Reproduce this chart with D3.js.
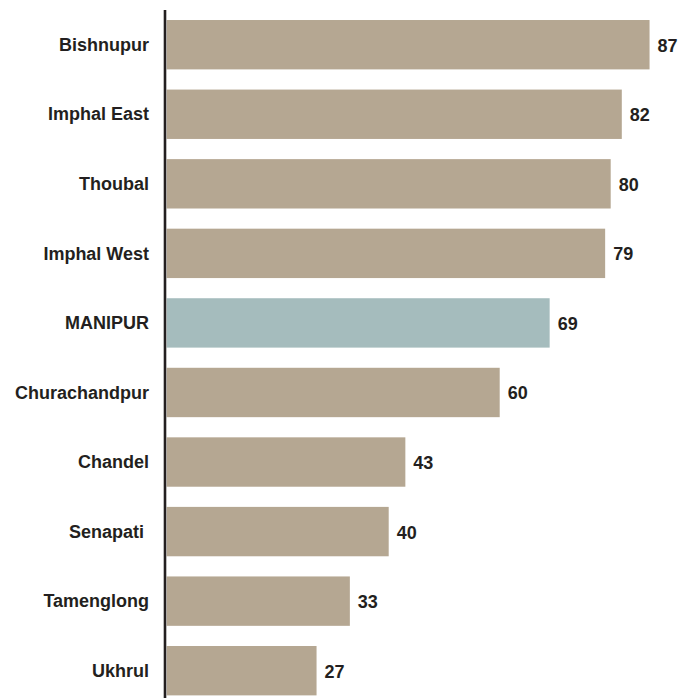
<!DOCTYPE html>
<html>
<head>
<meta charset="utf-8">
<script src="https://cdn.jsdelivr.net/npm/d3@7"></script>
<style>
  html, body { margin: 0; padding: 0; background: #ffffff; }
  svg { display: block; }
  text { font-family: "Liberation Sans", Arial, Helvetica, sans-serif; font-weight: bold; fill: #231f20; }
</style>
</head>
<body>
<svg id="chart" width="679" height="698"></svg>
<script>
// Districts of Manipur, ordered as plotted (top to bottom)
const districts = ["Bishnupur", "Imphal East", "Thoubal", "Imphal West", "MANIPUR",
                   "Churachandpur", "Chandel", "Senapati ", "Tamenglong", "Ukhrul"];
const values = [87, 82, 80, 79, 69, 60, 43, 40, 33, 27];
const highlight = ["MANIPUR"];

const barColor = "#b5a792";
const stateColor = "#a5bcbd";
const inkColor = "#231f20";
const fontSize = 18;
const textStretch = "scale(1,1.07)";

const svg = d3.select("#chart");
const axisX = 165;

const rows = districts.map((d, i) => ({ name: d, value: values[i] }));

const y = d3.scaleBand()
  .domain(districts)
  .range([10, 705.4])
  .paddingInner(0.29)
  .paddingOuter(0.144);

const x = d3.scaleLinear()
  .domain([0, 100])
  .range([166.7, 166.7 + 555]);

// Bars
svg.append("g")
  .selectAll("rect")
  .data(rows)
  .join("rect")
  .attr("x", x(0))
  .attr("y", d => y(d.name))
  .attr("width", d => x(d.value) - x(0))
  .attr("height", y.bandwidth())
  .attr("fill", d => highlight.includes(d.name) ? stateColor : barColor);

// Value labels at the end of each bar
svg.append("g")
  .selectAll("g")
  .data(rows)
  .join("g")
  .attr("transform", d => `translate(${x(d.value) + 8},${y(d.name) + y.bandwidth() / 2})`)
  .append("text")
  .attr("transform", textStretch)
  .attr("dy", "0.36em")
  .attr("font-size", fontSize)
  .text(d => d.value);

// Category axis: vertical rule with right-aligned labels
const axis = d3.axisLeft(y).tickSize(0).tickPadding(16);
const gAxis = svg.append("g")
  .attr("transform", `translate(${axisX},0)`)
  .call(axis);
gAxis.select(".domain").remove();
gAxis.selectAll("text")
  .attr("font-size", fontSize)
  .attr("fill", inkColor)
  .attr("transform", textStretch)
  .style("white-space", "pre")
  .style("font-family", "'Liberation Sans', Arial, Helvetica, sans-serif")
  .style("font-weight", "bold");

svg.append("line")
  .attr("x1", axisX).attr("x2", axisX)
  .attr("y1", 10).attr("y2", 698)
  .attr("stroke", inkColor)
  .attr("stroke-width", 2.6);
</script>
</body>
</html>
